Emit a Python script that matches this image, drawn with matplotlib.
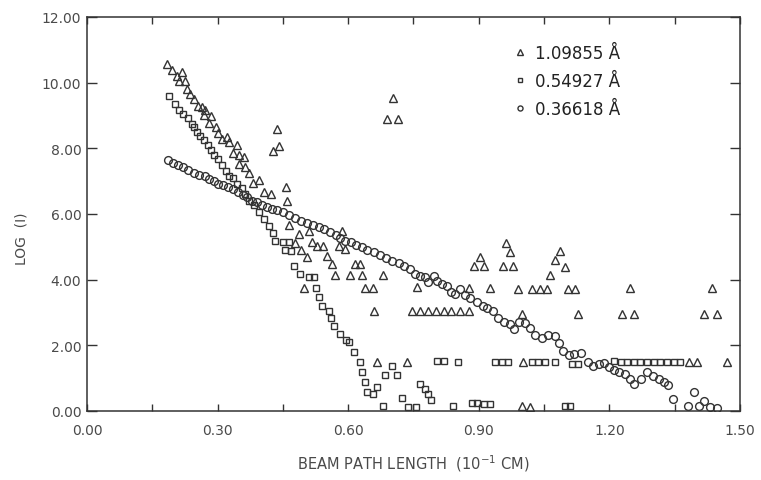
import numpy as np
import matplotlib
matplotlib.use("Agg")
import matplotlib.pyplot as plt
from matplotlib.ticker import MultipleLocator, FormatStrFormatter

# beam path length (10^-1 cm) and log(I)
tri_x = [0.183, 0.195, 0.206, 0.212, 0.218, 0.225, 0.229, 0.237, 0.246, 0.254,
         0.264, 0.269, 0.271, 0.280, 0.284, 0.297, 0.302, 0.310, 0.321, 0.327,
         0.336, 0.344, 0.349, 0.349, 0.361, 0.363, 0.373, 0.382, 0.394, 0.407,
         0.422, 0.427, 0.436, 0.441, 0.457, 0.459, 0.465, 0.478, 0.488, 0.491,
         0.499, 0.505, 0.511, 0.517, 0.528, 0.542, 0.551, 0.563, 0.570, 0.578,
         0.585, 0.593, 0.604, 0.616, 0.627, 0.631, 0.639, 0.657, 0.660, 0.667,
         0.681, 0.689, 0.703, 0.714, 0.736, 0.746, 0.759, 0.765, 0.784, 0.802,
         0.820, 0.836, 0.857, 0.877, 0.877, 0.890, 0.903, 0.911, 0.926, 0.956,
         0.963, 0.971, 0.978, 0.989, 0.999, 1.001, 0.999, 1.017, 1.022, 1.040,
         1.057, 1.064, 1.074, 1.086, 1.097, 1.104, 1.122, 1.129, 1.229, 1.248,
         1.256, 1.382, 1.402, 1.417, 1.436, 1.447, 1.471]
tri_y = [10.58, 10.38, 10.20, 10.04, 10.33, 10.04, 9.82, 9.66, 9.51, 9.29,
         9.26, 9.00, 9.16, 8.78, 8.98, 8.64, 8.48, 8.29, 8.34, 8.19,
         7.87, 8.09, 7.80, 7.51, 7.75, 7.43, 7.26, 6.95, 7.02, 6.67,
         6.62, 7.92, 8.60, 8.06, 6.82, 6.41, 5.67, 5.12, 5.40, 4.89,
         3.74, 4.68, 5.47, 5.16, 5.02, 5.02, 4.72, 4.48, 4.15, 5.04,
         5.47, 4.94, 4.15, 4.48, 4.48, 4.15, 3.74, 3.74, 3.03, 1.50,
         4.15, 8.88, 9.54, 8.88, 1.48, 3.03, 3.77, 3.03, 3.03, 3.03,
         3.03, 3.03, 3.03, 3.03, 3.74, 4.43, 4.68, 4.41, 3.74, 4.43,
         5.12, 4.84, 4.43, 3.72, 2.96, 1.48, 0.16, 0.11, 3.72, 3.72,
         3.72, 4.13, 4.61, 4.86, 4.38, 3.72, 3.72, 2.96, 2.96, 3.74,
         2.96, 1.48, 1.48, 2.96, 3.74, 2.96, 1.49]

sq_x = [0.189, 0.202, 0.212, 0.221, 0.231, 0.241, 0.246, 0.252, 0.260, 0.269,
        0.277, 0.284, 0.292, 0.302, 0.310, 0.320, 0.327, 0.336, 0.344, 0.355,
        0.363, 0.373, 0.384, 0.394, 0.406, 0.417, 0.427, 0.432, 0.450, 0.455,
        0.463, 0.468, 0.476, 0.490, 0.509, 0.522, 0.527, 0.534, 0.540, 0.555,
        0.560, 0.568, 0.581, 0.595, 0.603, 0.614, 0.626, 0.631, 0.639, 0.643,
        0.658, 0.667, 0.681, 0.685, 0.700, 0.712, 0.723, 0.738, 0.755, 0.765,
        0.777, 0.784, 0.790, 0.804, 0.819, 0.840, 0.853, 0.884, 0.896, 0.911,
        0.925, 0.938, 0.953, 0.968, 1.022, 1.037, 1.053, 1.076, 1.099, 1.110,
        1.114, 1.129, 1.211, 1.226, 1.241, 1.256, 1.271, 1.287, 1.302, 1.317,
        1.333, 1.348, 1.363]
sq_y = [9.58, 9.36, 9.16, 9.06, 8.92, 8.75, 8.65, 8.50, 8.39, 8.24,
        8.09, 7.94, 7.80, 7.66, 7.50, 7.30, 7.17, 7.09, 6.92, 6.79,
        6.62, 6.41, 6.26, 6.05, 5.85, 5.62, 5.43, 5.19, 5.16, 4.89,
        5.14, 4.86, 4.43, 4.18, 4.08, 4.08, 3.74, 3.47, 3.19, 3.06,
        2.83, 2.60, 2.35, 2.17, 2.11, 1.81, 1.50, 1.20, 0.89, 0.59,
        0.52, 0.72, 0.14, 1.10, 1.38, 1.10, 0.39, 0.11, 0.11, 0.82,
        0.67, 0.52, 0.32, 1.53, 1.53, 0.14, 1.50, 0.24, 0.24, 0.21,
        0.21, 1.48, 1.48, 1.48, 1.48, 1.48, 1.48, 1.48, 0.16, 0.16,
        1.43, 1.43, 1.53, 1.50, 1.50, 1.50, 1.50, 1.50, 1.50, 1.50,
        1.50, 1.50, 1.50]

circ_x = [0.185, 0.197, 0.208, 0.220, 0.233, 0.246, 0.258, 0.270, 0.281, 0.292,
          0.302, 0.313, 0.325, 0.336, 0.348, 0.358, 0.367, 0.379, 0.390, 0.402,
          0.413, 0.424, 0.436, 0.451, 0.465, 0.478, 0.491, 0.505, 0.519, 0.532,
          0.545, 0.558, 0.572, 0.582, 0.593, 0.606, 0.618, 0.631, 0.644, 0.660,
          0.673, 0.687, 0.700, 0.716, 0.729, 0.741, 0.754, 0.765, 0.777, 0.784,
          0.798, 0.804, 0.815, 0.827, 0.836, 0.846, 0.857, 0.869, 0.880, 0.896,
          0.909, 0.920, 0.933, 0.943, 0.957, 0.971, 0.982, 0.992, 1.005, 1.018,
          1.030, 1.045, 1.060, 1.074, 1.084, 1.094, 1.107, 1.119, 1.134, 1.150,
          1.162, 1.175, 1.187, 1.198, 1.210, 1.223, 1.236, 1.248, 1.256, 1.273,
          1.286, 1.300, 1.313, 1.325, 1.334, 1.346, 1.381, 1.394, 1.406, 1.417,
          1.430, 1.447]
circ_y = [7.63, 7.55, 7.50, 7.43, 7.33, 7.26, 7.20, 7.15, 7.07, 6.99,
          6.92, 6.89, 6.82, 6.75, 6.67, 6.59, 6.51, 6.41, 6.36, 6.28,
          6.21, 6.16, 6.11, 6.06, 5.98, 5.87, 5.80, 5.73, 5.65, 5.60,
          5.53, 5.45, 5.35, 5.26, 5.19, 5.14, 5.06, 4.99, 4.89, 4.84,
          4.76, 4.65, 4.58, 4.51, 4.43, 4.31, 4.18, 4.11, 4.08, 3.92,
          4.11, 3.97, 3.87, 3.80, 3.62, 3.57, 3.70, 3.52, 3.43, 3.33,
          3.21, 3.13, 3.03, 2.83, 2.72, 2.65, 2.50, 2.70, 2.68, 2.52,
          2.32, 2.22, 2.30, 2.28, 2.07, 1.84, 1.69, 1.74, 1.77, 1.48,
          1.36, 1.43, 1.46, 1.33, 1.26, 1.18, 1.13, 0.98, 0.82, 0.98,
          1.20, 1.08, 0.98, 0.89, 0.79, 0.37, 0.16, 0.57, 0.14, 0.31,
          0.11, 0.08]

labels = ["1.09855 Å", "0.54927 Å", "0.36618 Å"]

ink = "#333333"
txt = "#4a4a4a"

fig = plt.figure(figsize=(7.61, 4.81), dpi=100)
ax = fig.add_axes([0.1143, 0.1435, 0.8581, 0.8191])

ax.plot(tri_x, tri_y, linestyle="none", marker="^", ms=5.8, mfc="none",
        mec=ink, mew=1.0, label=labels[0])
ax.plot(sq_x, sq_y, linestyle="none", marker="s", ms=5, mfc="none",
        mec=ink, mew=1.0, label=labels[1])
ax.plot(circ_x, circ_y, linestyle="none", marker="o", ms=5.6, mfc="none",
        mec=ink, mew=1.0, label=labels[2])

ax.set_xlim(0, 1.5)
ax.set_ylim(0, 12)
ax.xaxis.set_major_locator(MultipleLocator(0.30))
ax.xaxis.set_minor_locator(MultipleLocator(0.15))
ax.yaxis.set_major_locator(MultipleLocator(2.0))
ax.xaxis.set_major_formatter(FormatStrFormatter("%.2f"))
ax.yaxis.set_major_formatter(FormatStrFormatter("%.2f"))

ax.tick_params(which="both", direction="in", top=True, right=True,
               color=ink, width=1.0, labelcolor=txt, labelsize=10)
ax.tick_params(which="both", axis="x", length=5, pad=9)
ax.tick_params(axis="y", length=7, pad=4)
for s in ax.spines.values():
    s.set_color(ink)
    s.set_linewidth(1.1)

ax.set_xlabel("BEAM PATH LENGTH  (10$^{-1}$ CM)", color=txt, fontsize=10.5,
              labelpad=11)
ax.set_ylabel("LOG  (I)", color=txt, fontsize=10)
ax.yaxis.set_label_coords(-0.09, 0.44)

leg = ax.legend(loc="upper left", bbox_to_anchor=(0.63, 0.97), frameon=False,
                fontsize=12, markerscale=0.65, handlelength=0.8,
                handletextpad=0.5, labelspacing=0.6)
for t in leg.get_texts():
    t.set_color("#222222")

fig.savefig("out.png", dpi=100)
